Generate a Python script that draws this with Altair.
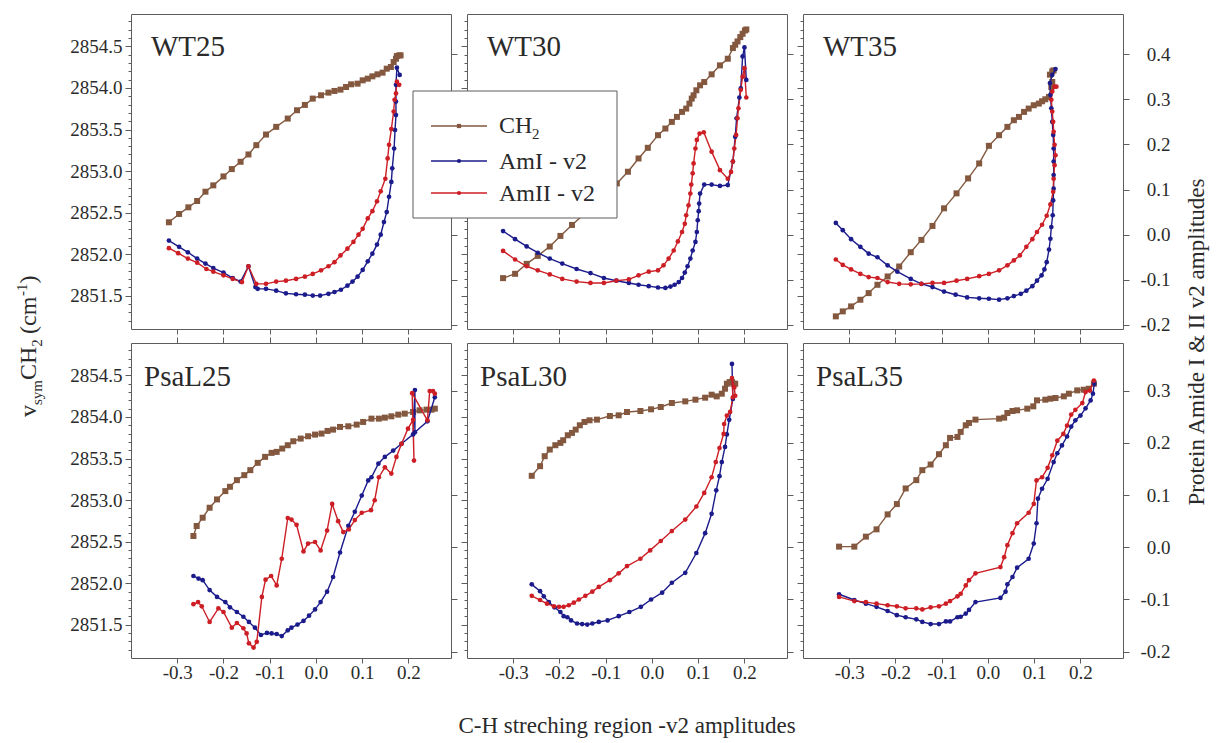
import altair as alt
import pandas as pd

FONT = "Liberation Serif"
BROWN = "#83583f"
BLUE = "#1b1b8c"
RED = "#cc1e24"
FRAME = "#5c5c5c"
TEXT = "#2a2a2a"

PANEL_W = 320
PANEL_H = 315

X_DOMAIN = [-0.4, 0.292]
CH2_DOMAIN = [2851.1, 2854.89]
PROT_DOMAIN_TOP = [-0.209, 0.489]
PROT_DOMAIN_BOTTOM = [-0.212, 0.391]

X_TICKS = [-0.3, -0.2, -0.1, 0.0, 0.1, 0.2]
CH2_TICKS = [2851.5, 2852.0, 2852.5, 2853.0, 2853.5, 2854.0, 2854.5]
CH2_MINOR = [2851.2, 2851.3, 2851.4, 2851.6, 2851.7, 2851.8, 2851.9, 2852.1, 2852.2, 2852.3,
             2852.4, 2852.6, 2852.7, 2852.8, 2852.9, 2853.1, 2853.2, 2853.3, 2853.4, 2853.6,
             2853.7, 2853.8, 2853.9, 2854.1, 2854.2, 2854.3, 2854.4, 2854.6, 2854.7, 2854.8]
PROT_TICKS_TOP = [-0.2, -0.1, 0.0, 0.1, 0.2, 0.3, 0.4]
PROT_TICKS_BOTTOM = [-0.2, -0.1, 0.0, 0.1, 0.2, 0.3]

PANEL_NAMES = ["WT25", "WT30", "WT35", "PsaL25", "PsaL30", "PsaL35"]
LEGEND_LABELS = ["CH", "AmI - v2", "AmII - v2"]
X_TITLE = "C-H streching region -v2 amplitudes"
RIGHT_TITLE = "Protein Amide I & II v2 amplitudes"

# ---------------- WT25 ----------------
WT25_CH2_X = [-0.318, -0.296, -0.276, -0.257, -0.239, -0.222, -0.200, -0.182, -0.163, -0.146,
              -0.129, -0.108, -0.086, -0.061, -0.041, -0.024, -0.007, 0.011, 0.027, 0.040,
              0.053, 0.065, 0.076, 0.090, 0.101, 0.112, 0.122, 0.133, 0.144, 0.153,
              0.162, 0.168, 0.173, 0.175, 0.180, 0.183]
WT25_CH2_Y = [2852.384, 2852.484, 2852.564, 2852.640, 2852.752, 2852.828, 2852.936, 2853.024, 2853.112, 2853.200,
              2853.312, 2853.440, 2853.532, 2853.632, 2853.732, 2853.796, 2853.872, 2853.912, 2853.944, 2853.964,
              2853.980, 2854.012, 2854.044, 2854.052, 2854.092, 2854.112, 2854.140, 2854.164, 2854.184, 2854.232,
              2854.252, 2854.312, 2854.352, 2854.384, 2854.392, 2854.392]
WT25_AMI_X = [-0.318, -0.296, -0.277, -0.257, -0.239, -0.222, -0.200, -0.180, -0.163, -0.146,
              -0.131, -0.126, -0.108, -0.086, -0.065, -0.043, -0.024, -0.007, 0.009, 0.027,
              0.040, 0.054, 0.068, 0.079, 0.090, 0.101, 0.112, 0.122, 0.132, 0.140,
              0.147, 0.153, 0.158, 0.163, 0.165, 0.169, 0.171, 0.173, 0.173, 0.173, 0.175, 0.181]
WT25_AMI_Y = [-0.013, -0.027, -0.039, -0.053, -0.064, -0.074, -0.084, -0.096, -0.104, -0.070,
              -0.116, -0.120, -0.120, -0.124, -0.130, -0.132, -0.133, -0.135, -0.135, -0.131,
              -0.127, -0.122, -0.113, -0.104, -0.093, -0.078, -0.059, -0.042, -0.022, 0.000,
              0.028, 0.050, 0.084, 0.117, 0.147, 0.191, 0.232, 0.265, 0.295, 0.332, 0.370, 0.354]
WT25_AMII_X = [-0.318, -0.298, -0.277, -0.257, -0.237, -0.222, -0.200, -0.180, -0.160, -0.146,
               -0.129, -0.108, -0.086, -0.065, -0.043, -0.024, -0.007, 0.011, 0.027, 0.040,
               0.053, 0.068, 0.081, 0.092, 0.101, 0.112, 0.122, 0.132, 0.140, 0.150,
               0.155, 0.158, 0.163, 0.168, 0.170, 0.173, 0.175, 0.180]
WT25_AMII_Y = [-0.030, -0.041, -0.053, -0.062, -0.076, -0.082, -0.090, -0.098, -0.105, -0.070,
               -0.109, -0.109, -0.104, -0.102, -0.098, -0.093, -0.087, -0.079, -0.070, -0.061,
               -0.046, -0.031, -0.016, 0.000, 0.013, 0.036, 0.052, 0.074, 0.096, 0.124,
               0.169, 0.199, 0.234, 0.273, 0.299, 0.313, 0.339, 0.332]

# ---------------- WT30 ----------------
WT30_CH2_X = [-0.322, -0.296, -0.271, -0.247, -0.221, -0.198, -0.173, -0.149, -0.124, -0.101,
              -0.076, -0.052, -0.029, -0.009, 0.013, 0.029, 0.043, 0.054, 0.065, 0.074,
              0.081, 0.086, 0.090, 0.096, 0.104, 0.113, 0.129, 0.147, 0.164, 0.175,
              0.180, 0.185, 0.191, 0.196, 0.201, 0.204]
WT30_CH2_Y = [2851.712, 2851.764, 2851.884, 2851.980, 2852.092, 2852.220, 2852.352, 2852.472, 2852.612, 2852.732,
              2852.852, 2852.992, 2853.152, 2853.280, 2853.432, 2853.512, 2853.592, 2853.652, 2853.712, 2853.752,
              2853.812, 2853.872, 2853.912, 2853.972, 2854.032, 2854.072, 2854.164, 2854.272, 2854.352, 2854.480,
              2854.520, 2854.560, 2854.612, 2854.652, 2854.692, 2854.704]
WT30_AMI_X = [-0.322, -0.296, -0.271, -0.247, -0.221, -0.194, -0.163, -0.133, -0.104, -0.077,
              -0.050, -0.029, -0.007, 0.013, 0.029, 0.040, 0.049, 0.058, 0.065, 0.071,
              0.077, 0.083, 0.088, 0.094, 0.097, 0.099, 0.101, 0.102, 0.104, 0.113,
              0.129, 0.147, 0.164, 0.175, 0.180, 0.183, 0.189, 0.192, 0.196, 0.200, 0.204]
WT30_AMI_Y = [0.008, -0.010, -0.026, -0.040, -0.053, -0.064, -0.076, -0.085, -0.096, -0.102,
              -0.107, -0.111, -0.114, -0.117, -0.118, -0.115, -0.111, -0.105, -0.096, -0.084,
              -0.070, -0.053, -0.035, -0.016, 0.006, 0.032, 0.052, 0.069, 0.091, 0.111,
              0.111, 0.108, 0.110, 0.162, 0.217, 0.258, 0.304, 0.324, 0.395, 0.415, 0.343]
WT30_AMII_X = [-0.322, -0.296, -0.271, -0.247, -0.221, -0.194, -0.163, -0.133, -0.104, -0.077,
               -0.050, -0.029, -0.007, 0.013, 0.025, 0.036, 0.047, 0.056, 0.065, 0.071,
               0.074, 0.079, 0.083, 0.085, 0.088, 0.090, 0.094, 0.097, 0.103, 0.112,
               0.129, 0.147, 0.164, 0.171, 0.175, 0.178, 0.182, 0.185, 0.187, 0.192, 0.196, 0.200, 0.204]
WT30_AMII_Y = [-0.036, -0.055, -0.070, -0.079, -0.088, -0.098, -0.104, -0.107, -0.107, -0.102,
               -0.099, -0.090, -0.082, -0.079, -0.068, -0.053, -0.035, -0.015, 0.006, 0.024,
               0.043, 0.065, 0.091, 0.111, 0.136, 0.158, 0.191, 0.210, 0.224, 0.227,
               0.184, 0.143, 0.124, 0.139, 0.162, 0.191, 0.221, 0.258, 0.280, 0.321, 0.350, 0.369, 0.304]

# ---------------- WT35 ----------------
WT35_CH2_X = [-0.329, -0.314, -0.296, -0.276, -0.258, -0.239, -0.217, -0.192, -0.167, -0.144,
              -0.120, -0.095, -0.068, -0.043, -0.019, 0.002, 0.024, 0.042, 0.056, 0.067,
              0.078, 0.088, 0.099, 0.110, 0.117, 0.124, 0.132, 0.137, 0.139, 0.134, 0.139, 0.142]
WT35_CH2_Y = [2851.252, 2851.312, 2851.372, 2851.452, 2851.532, 2851.632, 2851.732, 2851.852, 2852.024, 2852.172,
              2852.340, 2852.552, 2852.732, 2852.912, 2853.092, 2853.304, 2853.432, 2853.532, 2853.612, 2853.652,
              2853.712, 2853.752, 2853.792, 2853.812, 2853.840, 2853.864, 2853.892, 2854.012, 2854.072, 2854.160,
              2854.200, 2854.212]
WT35_AMI_X = [-0.329, -0.314, -0.296, -0.276, -0.258, -0.239, -0.217, -0.196, -0.167, -0.144,
              -0.120, -0.095, -0.070, -0.045, -0.019, 0.002, 0.024, 0.042, 0.056, 0.071,
              0.083, 0.096, 0.106, 0.116, 0.122, 0.127, 0.132, 0.135, 0.137, 0.140,
              0.141, 0.142, 0.142, 0.142, 0.142, 0.141, 0.139, 0.137, 0.135, 0.134, 0.139, 0.146]
WT35_AMI_Y = [0.026, 0.010, -0.010, -0.027, -0.042, -0.050, -0.068, -0.082, -0.098, -0.109,
              -0.116, -0.126, -0.133, -0.139, -0.141, -0.142, -0.144, -0.141, -0.136, -0.131,
              -0.124, -0.114, -0.102, -0.090, -0.077, -0.061, -0.033, -0.009, 0.017, 0.043,
              0.076, 0.102, 0.132, 0.162, 0.191, 0.221, 0.250, 0.280, 0.310, 0.336, 0.354, 0.367]
WT35_AMII_X = [-0.329, -0.314, -0.296, -0.276, -0.258, -0.239, -0.217, -0.192, -0.167, -0.144,
               -0.120, -0.095, -0.068, -0.045, -0.019, 0.002, 0.024, 0.042, 0.056, 0.069,
               0.083, 0.096, 0.106, 0.117, 0.127, 0.135, 0.141, 0.142, 0.144, 0.146,
               0.144, 0.142, 0.141, 0.139, 0.137, 0.139, 0.144, 0.148]
WT35_AMII_Y = [-0.055, -0.067, -0.077, -0.087, -0.094, -0.096, -0.105, -0.109, -0.110, -0.109,
               -0.107, -0.107, -0.102, -0.098, -0.092, -0.087, -0.079, -0.068, -0.057, -0.046,
               -0.027, -0.010, 0.006, 0.022, 0.042, 0.067, 0.095, 0.124, 0.154, 0.176,
               0.199, 0.228, 0.250, 0.273, 0.299, 0.317, 0.328, 0.328]

# ---------------- PsaL25 ----------------
PSAL25_CH2_X = [-0.265, -0.258, -0.245, -0.230, -0.214, -0.196, -0.186, -0.171, -0.155, -0.142,
                -0.126, -0.110, -0.096, -0.085, -0.073, -0.061, -0.049, -0.033, -0.017, -0.002,
                0.012, 0.025, 0.037, 0.052, 0.070, 0.088, 0.102, 0.120, 0.136, 0.149,
                0.163, 0.178, 0.192, 0.210, 0.224, 0.239, 0.250, 0.257]
PSAL25_CH2_Y = [2852.568, 2852.688, 2852.788, 2852.908, 2853.008, 2853.108, 2853.160, 2853.240, 2853.300, 2853.360,
                2853.448, 2853.520, 2853.568, 2853.580, 2853.620, 2853.660, 2853.708, 2853.740, 2853.768, 2853.788,
                2853.800, 2853.832, 2853.848, 2853.880, 2853.888, 2853.908, 2853.940, 2853.980, 2853.980, 2853.992,
                2854.008, 2854.028, 2854.040, 2854.060, 2854.080, 2854.088, 2854.088, 2854.100]
PSAL25_AMI_X = [-0.265, -0.254, -0.245, -0.230, -0.214, -0.196, -0.186, -0.171, -0.157, -0.145,
                -0.132, -0.119, -0.106, -0.096, -0.085, -0.074, -0.061, -0.053, -0.040, -0.027,
                -0.015, -0.002, 0.010, 0.024, 0.037, 0.052, 0.070, 0.084, 0.099, 0.113,
                0.120, 0.135, 0.149, 0.167, 0.185, 0.210, 0.214, 0.214, 0.241, 0.257]
PSAL25_AMI_Y = [-0.055, -0.060, -0.063, -0.082, -0.095, -0.105, -0.115, -0.124, -0.133, -0.143,
                -0.154, -0.168, -0.164, -0.165, -0.166, -0.170, -0.159, -0.154, -0.148, -0.141,
                -0.131, -0.119, -0.105, -0.085, -0.057, -0.010, 0.041, 0.068, 0.099, 0.128,
                0.134, 0.160, 0.173, 0.185, 0.198, 0.216, 0.301, 0.220, 0.241, 0.287]
PSAL25_AMII_X = [-0.265, -0.255, -0.247, -0.230, -0.211, -0.200, -0.182, -0.171, -0.157, -0.150,
                 -0.145, -0.135, -0.128, -0.117, -0.109, -0.097, -0.085, -0.074, -0.061, -0.053,
                 -0.042, -0.027, -0.017, -0.002, 0.010, 0.024, 0.035, 0.048, 0.059, 0.071,
                 0.084, 0.099, 0.119, 0.127, 0.136, 0.149, 0.163, 0.174, 0.185, 0.199,
                 0.210, 0.212, 0.208, 0.241, 0.246, 0.253, 0.257]
PSAL25_AMII_Y = [-0.109, -0.105, -0.113, -0.143, -0.117, -0.124, -0.154, -0.145, -0.155, -0.165,
                 -0.184, -0.192, -0.181, -0.095, -0.062, -0.055, -0.073, -0.022, 0.056, 0.053,
                 0.043, -0.008, 0.007, 0.010, -0.006, 0.032, 0.083, 0.050, 0.029, 0.034,
                 0.052, 0.066, 0.071, 0.090, 0.134, 0.153, 0.141, 0.173, 0.198, 0.227,
                 0.244, 0.166, 0.295, 0.243, 0.299, 0.299, 0.294]

# ---------------- PsaL30 ----------------
PSAL30_CH2_X = [-0.260, -0.242, -0.232, -0.221, -0.209, -0.198, -0.192, -0.182, -0.173, -0.165,
                -0.156, -0.146, -0.135, -0.119, -0.091, -0.072, -0.054, -0.025, -0.002, 0.019,
                0.043, 0.072, 0.094, 0.115, 0.129, 0.140, 0.151, 0.158, 0.162, 0.168,
                0.173, 0.176, 0.180]
PSAL30_CH2_Y = [2853.292, 2853.408, 2853.528, 2853.608, 2853.660, 2853.688, 2853.720, 2853.780, 2853.808, 2853.848,
                2853.900, 2853.940, 2853.960, 2853.968, 2854.012, 2854.020, 2854.060, 2854.072, 2854.092, 2854.120,
                2854.168, 2854.188, 2854.208, 2854.232, 2854.268, 2854.248, 2854.280, 2854.340, 2854.400, 2854.420,
                2854.420, 2854.400, 2854.400]
PSAL30_AMI_X = [-0.260, -0.242, -0.234, -0.223, -0.211, -0.198, -0.191, -0.183, -0.175, -0.162,
                -0.151, -0.140, -0.129, -0.115, -0.096, -0.072, -0.049, -0.024, -0.002, 0.022,
                0.043, 0.072, 0.096, 0.115, 0.129, 0.139, 0.146, 0.151, 0.158, 0.162,
                0.167, 0.175, 0.173]
PSAL30_AMI_Y = [-0.071, -0.084, -0.094, -0.105, -0.115, -0.124, -0.132, -0.134, -0.140, -0.146,
                -0.147, -0.148, -0.146, -0.143, -0.140, -0.132, -0.124, -0.114, -0.100, -0.087,
                -0.068, -0.049, -0.011, 0.027, 0.064, 0.109, 0.136, 0.163, 0.192, 0.216,
                0.244, 0.284, 0.351]
PSAL30_AMII_X = [-0.260, -0.242, -0.227, -0.212, -0.201, -0.191, -0.180, -0.169, -0.158, -0.144,
                 -0.129, -0.115, -0.091, -0.072, -0.054, -0.025, -0.004, 0.019, 0.043, 0.072,
                 0.096, 0.113, 0.129, 0.138, 0.146, 0.155, 0.156, 0.162, 0.169, 0.175,
                 0.173, 0.178, 0.180]
PSAL30_AMII_Y = [-0.093, -0.101, -0.108, -0.113, -0.114, -0.114, -0.111, -0.106, -0.100, -0.093,
                 -0.085, -0.076, -0.063, -0.050, -0.036, -0.022, -0.006, 0.012, 0.031, 0.053,
                 0.078, 0.104, 0.134, 0.163, 0.190, 0.217, 0.236, 0.252, 0.259, 0.287,
                 0.324, 0.306, 0.290]

# ---------------- PsaL35 ----------------
PSAL35_CH2_X = [-0.322, -0.289, -0.264, -0.241, -0.217, -0.197, -0.178, -0.155, -0.142, -0.124,
                -0.106, -0.091, -0.082, -0.066, -0.059, -0.048, -0.041, -0.027, 0.024, 0.035,
                0.042, 0.053, 0.063, 0.085, 0.098, 0.106, 0.124, 0.135, 0.146, 0.164,
                0.175, 0.193, 0.207, 0.218, 0.229]
PSAL35_CH2_Y = [2852.440, 2852.440, 2852.560, 2852.648, 2852.828, 2852.952, 2853.140, 2853.240, 2853.360, 2853.428,
                2853.552, 2853.660, 2853.748, 2853.760, 2853.820, 2853.900, 2853.928, 2853.968, 2853.980, 2853.992,
                2854.048, 2854.072, 2854.080, 2854.100, 2854.128, 2854.200, 2854.208, 2854.220, 2854.228, 2854.248,
                2854.280, 2854.320, 2854.328, 2854.340, 2854.400]
PSAL35_AMI_X = [-0.322, -0.289, -0.264, -0.241, -0.217, -0.197, -0.178, -0.155, -0.142, -0.124,
                -0.106, -0.091, -0.082, -0.066, -0.059, -0.048, -0.041, -0.027, 0.027, 0.038,
                0.042, 0.053, 0.063, 0.088, 0.099, 0.105, 0.108, 0.117, 0.129, 0.142,
                0.150, 0.160, 0.171, 0.180, 0.189, 0.200, 0.211, 0.222, 0.227, 0.230]
PSAL35_AMI_Y = [-0.090, -0.101, -0.108, -0.114, -0.122, -0.130, -0.134, -0.138, -0.143, -0.147,
                -0.147, -0.142, -0.142, -0.134, -0.133, -0.127, -0.120, -0.105, -0.097, -0.085,
                -0.071, -0.057, -0.039, -0.022, 0.007, 0.046, 0.093, 0.112, 0.131, 0.163,
                0.180, 0.195, 0.212, 0.231, 0.243, 0.252, 0.266, 0.281, 0.294, 0.313]
PSAL35_AMII_X = [-0.322, -0.289, -0.264, -0.241, -0.217, -0.197, -0.178, -0.155, -0.142, -0.124,
                 -0.106, -0.091, -0.082, -0.066, -0.059, -0.048, -0.041, -0.027, 0.027, 0.035,
                 0.042, 0.053, 0.063, 0.088, 0.099, 0.105, 0.117, 0.129, 0.139, 0.150,
                 0.163, 0.171, 0.180, 0.189, 0.204, 0.211, 0.220, 0.229]
PSAL35_AMII_Y = [-0.095, -0.103, -0.105, -0.108, -0.111, -0.113, -0.117, -0.117, -0.119, -0.115,
                 -0.113, -0.108, -0.103, -0.094, -0.089, -0.073, -0.063, -0.050, -0.038, -0.019,
                 0.004, 0.027, 0.046, 0.066, 0.083, 0.128, 0.134, 0.152, 0.176, 0.204,
                 0.217, 0.233, 0.254, 0.263, 0.276, 0.297, 0.300, 0.319]

MINUS_FIX = "replace(format(datum.value, '.1f'), '\u2212', '-')"
ONE = pd.DataFrame({"k": [0]})


def series_frame(xs, ys, name):
    n = min(len(xs), len(ys))
    return pd.DataFrame({"x": xs[:n], "y": ys[:n], "s": [name] * n, "i": list(range(n))})


def x_enc(axis):
    return alt.X("x:Q", scale=alt.Scale(domain=X_DOMAIN, nice=False, zero=False), axis=axis)


def txt(t, x, y, size, align="left", baseline="alphabetic", angle=0, color=TEXT):
    return alt.Chart(ONE).mark_text(
        text=t, font=FONT, fontSize=size, align=align, baseline=baseline,
        angle=angle, color=color
    ).encode(x=alt.value(x), y=alt.value(y))


def panel(name, ch2, ami, amii, row, col, extras):
    bottom = row == 1
    prot_domain = PROT_DOMAIN_BOTTOM if bottom else PROT_DOMAIN_TOP
    prot_ticks = PROT_TICKS_BOTTOM if bottom else PROT_TICKS_TOP
    ch2_df = series_frame(ch2[0], ch2[1], "CH2")
    prot_df = pd.concat([series_frame(ami[0], ami[1], "AmI"),
                         series_frame(amii[0], amii[1], "AmII")], ignore_index=True)

    x_axis = alt.Axis(orient="bottom", values=X_TICKS, labels=bottom, labelExpr=MINUS_FIX,
                      title=None, tickSize=5, labelPadding=0)
    y_left = alt.Y("y:Q", scale=alt.Scale(domain=CH2_DOMAIN, nice=False, zero=False),
                   axis=alt.Axis(orient="left", values=CH2_TICKS, labels=(col == 0), format=".1f",
                                 title=None, tickSize=6, labelPadding=3))
    y_right = alt.Y("y:Q", scale=alt.Scale(domain=prot_domain, nice=False, zero=False),
                    axis=alt.Axis(orient="right", values=prot_ticks, labels=(col == 2),
                                  labelExpr=MINUS_FIX, labelAlign="right", title=None,
                                  tickSize=6, labelPadding=41))

    ch2_base = alt.Chart(ch2_df)
    left = alt.layer(
        ch2_base.mark_line(color=BROWN, strokeWidth=1.4).encode(x=x_enc(x_axis), y=y_left, order="i:Q"),
        ch2_base.mark_square(color=BROWN, size=36, opacity=1).encode(x=x_enc(x_axis), y=y_left),
    )
    color = alt.Color("s:N", scale=alt.Scale(domain=["AmI", "AmII"], range=[BLUE, RED]), legend=None)
    prot_base = alt.Chart(prot_df)
    right = alt.layer(
        prot_base.mark_line(strokeWidth=1.4).encode(x=x_enc(None), y=y_right, color=color, order="i:Q"),
        prot_base.mark_circle(size=22, opacity=1).encode(x=x_enc(None), y=y_right, color=color),
    )
    top_axis = alt.Axis(orient="top", values=X_TICKS, labels=False, title=None, tickSize=6) if bottom else None
    minor = ch2_base.mark_point(opacity=0).encode(
        x=x_enc(top_axis),
        y=alt.Y("y:Q", scale=alt.Scale(domain=CH2_DOMAIN, nice=False, zero=False),
                axis=alt.Axis(orient="left", values=CH2_MINOR, labels=False, title=None, tickSize=3)),
    )
    label = txt(name, 13 if bottom else 20, 43 if bottom else 42, 29)
    layers = [left, right, minor, label] + extras
    return alt.layer(*layers).resolve_scale(x="independent", y="independent").properties(
        width=PANEL_W, height=PANEL_H)


# y-axis title pieces (v_sym CH_2 (cm^-1)), rotated to read upward
y_title = [
    txt("v", -95, 403, 24, angle=270),
    txt("sym", -89, 391, 15, angle=270),
    txt("CH", -95, 366, 24, angle=270),
    txt("2", -89, 332.7, 15, angle=270),
    txt("(cm", -95, 320, 24, angle=270),
    txt("-1", -104, 282, 15, angle=270),
    txt(")", -95, 269.5, 24, angle=270),
]

legend_colors = [BROWN, BLUE, RED]
legend_shapes = ["square", "circle", "circle"]
legend_line_y = [112, 147, 179]
legend_text_y = [119, 155, 187]
legend = [alt.Chart(ONE).mark_rect(fill="white", stroke=FRAME, strokeWidth=1).encode(
    x=alt.value(-54), x2=alt.value(150), y=alt.value(77), y2=alt.value(204))]
for lab, c, shp, ly, ty in zip(LEGEND_LABELS, legend_colors, legend_shapes, legend_line_y, legend_text_y):
    legend.append(alt.Chart(ONE).mark_rule(color=c, strokeWidth=1.4).encode(
        x=alt.value(-36), x2=alt.value(20), y=alt.value(ly)))
    legend.append(alt.Chart(ONE).mark_point(shape=shp, filled=True, size=18, color=c, opacity=1).encode(
        x=alt.value(-8), y=alt.value(ly)))
    legend.append(txt(lab, 32, ty, 24))
legend.append(txt("2", 65, 125, 15))

right_title = [txt(RIGHT_TITLE, 394, 328, 23, align="center", baseline="middle", angle=270)]
x_title = [txt(X_TITLE, 160, 383, 23, align="center", baseline="middle")]

panels = [
    panel(PANEL_NAMES[0], (WT25_CH2_X, WT25_CH2_Y), (WT25_AMI_X, WT25_AMI_Y), (WT25_AMII_X, WT25_AMII_Y), 0, 0, y_title),
    panel(PANEL_NAMES[1], (WT30_CH2_X, WT30_CH2_Y), (WT30_AMI_X, WT30_AMI_Y), (WT30_AMII_X, WT30_AMII_Y), 0, 1, legend),
    panel(PANEL_NAMES[2], (WT35_CH2_X, WT35_CH2_Y), (WT35_AMI_X, WT35_AMI_Y), (WT35_AMII_X, WT35_AMII_Y), 0, 2, right_title),
    panel(PANEL_NAMES[3], (PSAL25_CH2_X, PSAL25_CH2_Y), (PSAL25_AMI_X, PSAL25_AMI_Y), (PSAL25_AMII_X, PSAL25_AMII_Y), 1, 0, []),
    panel(PANEL_NAMES[4], (PSAL30_CH2_X, PSAL30_CH2_Y), (PSAL30_AMI_X, PSAL30_AMI_Y), (PSAL30_AMII_X, PSAL30_AMII_Y), 1, 1, x_title),
    panel(PANEL_NAMES[5], (PSAL35_CH2_X, PSAL35_CH2_Y), (PSAL35_AMI_X, PSAL35_AMI_Y), (PSAL35_AMII_X, PSAL35_AMII_Y), 1, 2, []),
]

chart = alt.concat(
    *panels, columns=3, spacing=alt.RowColnumber(row=14, column=16), bounds="flush"
).configure_view(
    stroke=FRAME, strokeWidth=1
).configure_axis(
    labelFont=FONT, labelFontSize=19, labelColor=TEXT, tickColor=FRAME, tickWidth=1,
    domain=False, grid=False
).properties(
    padding={"left": 6, "top": 5, "right": 0, "bottom": 0}, background="white"
)

chart.save("out.html", embed_options={"renderer": "svg", "actions": False})
